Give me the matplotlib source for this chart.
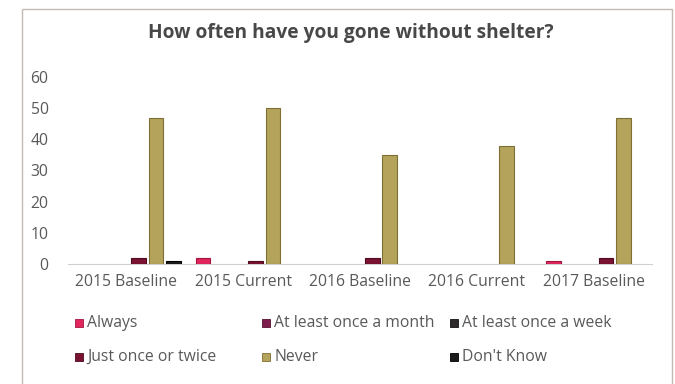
import matplotlib.pyplot as plt
import matplotlib.patches as mpatches
import numpy as np

plt.rcParams['font.family'] = ['Open Sans', 'DejaVu Sans']

# --- Survey data ---
categories = ['2015 Baseline', '2015 Current', '2016 Baseline', '2016 Current', '2017 Baseline']
series = ['Always', 'At least once a month', 'At least once a week',
          'Just once or twice', 'Never', "Don't Know"]
always = [0, 2, 0, 0, 1]
once_a_month = [0, 0, 0, 0, 0]
once_a_week = [0, 0, 0, 0, 0]
once_or_twice = [2, 1, 2, 0, 2]
never = [47, 50, 35, 38, 47]
dont_know = [1, 0, 0, 0, 0]
values = [always, once_a_month, once_a_week, once_or_twice, never, dont_know]

colors = ['#e0265c', '#7e1d4e', '#2e2a2c', '#7a1232', '#b3a35b', '#1c1a1a']
edges = ['#a3143c', '#55102f', '#111111', '#4e0a1e', '#7f6f34', '#000000']

fig = plt.figure(figsize=(6.75, 3.84), dpi=100)
ax = fig.add_axes([68 / 675, 1 - 264 / 384, 584 / 675, 187 / 384])

x = np.arange(len(categories))
slot = 0.15
width = 0.125
for i, (vals, c, ec) in enumerate(zip(values, colors, edges)):
    vals = np.array(vals, dtype=float)
    keep = vals > 0  # empty answers get no bar at all
    offs = (i - 2.5) * slot + 0.03
    ax.bar(x[keep] + offs, vals[keep], width, color=c, edgecolor=ec,
           linewidth=0.8, zorder=3)

ax.set_xlim(-0.5, len(categories) - 0.5)
ax.set_ylim(0, 60)
ax.set_yticks(range(0, 61, 10))
ax.set_xticks(x)
ax.set_xticklabels(categories)
ax.tick_params(length=0, labelsize=11.3, colors='#595959', pad=7)
ax.tick_params(axis='y', pad=14)
for side in ['top', 'right', 'left']:
    ax.spines[side].set_visible(False)
ax.spines['bottom'].set_color('#d0d0d0')

fig.text(351 / 675, 1 - 33 / 384, 'How often have you gone without shelter?',
         ha='center', va='center', fontsize=13.8, fontweight='bold', color='#484848')

# outer chart frame
fig.patches.append(mpatches.Rectangle((22 / 675, -0.05), 650 / 675, 1.05 - 9 / 384,
                                      transform=fig.transFigure, fill=False,
                                      edgecolor='#c4bcb4', linewidth=1))

# legend laid out in two rows of three
col_x = [75, 262, 450]
row_y = [323, 357]
for i, (name, c, ec) in enumerate(zip(series, colors, edges)):
    row, col = divmod(i, 3)
    px, py = col_x[col], row_y[row]
    fig.patches.append(mpatches.Rectangle((px / 675, 1 - (py + 4) / 384), 8 / 675, 8 / 384,
                                          transform=fig.transFigure, facecolor=c,
                                          edgecolor=ec, linewidth=0.6))
    fig.text((px + 12) / 675, 1 - py / 384, name, ha='left', va='center',
             fontsize=11.3, color='#595959')

fig.savefig('out.png', dpi=100)
